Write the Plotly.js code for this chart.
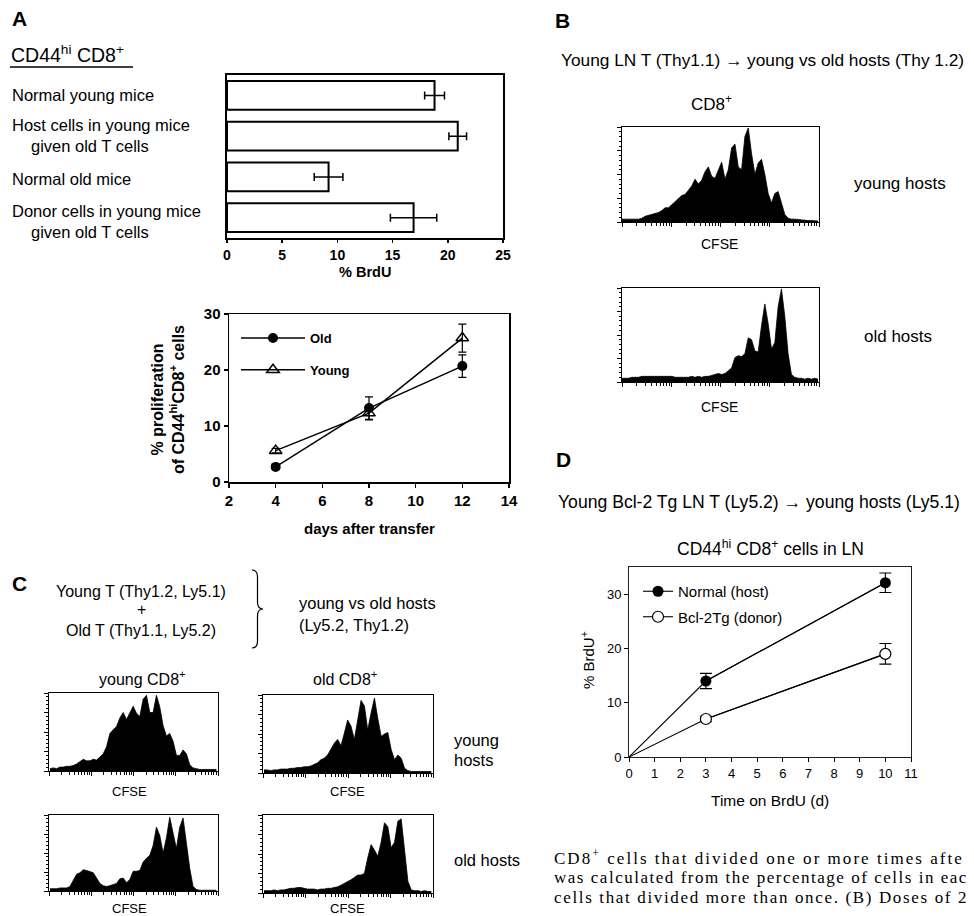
<!DOCTYPE html>
<html><head><meta charset="utf-8">
<script src="https://cdn.plot.ly/plotly-3.0.1.min.js"></script>
<style>html,body{margin:0;padding:0;background:#fff;overflow:hidden}#chart{width:974px;height:916px}</style>
</head><body><div id="chart"></div>
<script>
// ---------- DATA ----------
// Panel A, bar chart: % BrdU of CD44hi CD8+ cells
const brduCategories = [
  'Normal young mice',
  'Host cells in young mice<br>given old T cells',
  'Normal old mice',
  'Donor cells in young mice<br>given old T cells'
];
const brduMeans  = [18.8, 20.9, 9.2, 16.9];
const brduErrors = [0.9, 0.8, 1.3, 2.1];
const brduTicks  = [0, 5, 10, 15, 20, 25];

// Panel A, line chart: % proliferation vs days after transfer
const transferDays   = [4, 8, 12];
const oldProlif      = [2.7, 13.2, 20.7];
const oldProlifErr   = [0.4, 2.0, 2.0];
const youngProlif    = [5.6, 12.3, 25.7];
const youngProlifErr = [0.4, 1.2, 2.5];

// Panel B, CFSE histograms (relative counts per channel bin)
const cfseB_youngHosts = [0.03,0.03,0.03,0.03,0.03,0.03,0.04,0.06,0.07,0.08,0.09,0.10,0.12,0.15,0.15,0.18,0.21,0.25,0.28,0.29,0.33,0.38,0.45,0.40,0.44,0.53,0.58,0.48,0.46,0.55,0.63,0.45,0.55,0.78,0.82,0.58,0.55,0.90,0.99,0.72,0.50,0.62,0.66,0.50,0.30,0.20,0.30,0.32,0.20,0.08,0.04,0.03,0.03,0.025,0.02,0.02,0.015,0.015,0.01,0.01];
const cfseB_oldHosts   = [0.04,0.04,0.04,0.05,0.05,0.05,0.06,0.06,0.06,0.06,0.06,0.06,0.06,0.06,0.06,0.06,0.05,0.05,0.05,0.05,0.05,0.06,0.05,0.06,0.05,0.06,0.06,0.07,0.08,0.09,0.08,0.09,0.12,0.15,0.26,0.28,0.27,0.30,0.47,0.45,0.33,0.32,0.60,0.83,0.62,0.35,0.42,0.80,0.99,0.70,0.30,0.08,0.05,0.04,0.04,0.03,0.04,0.03,0.04,0.03];

// Panel C, CFSE histograms
const cfseC_youngCD8_youngHosts = [0.03,0.04,0.03,0.05,0.05,0.06,0.06,0.07,0.09,0.12,0.15,0.13,0.13,0.15,0.14,0.18,0.22,0.31,0.48,0.53,0.57,0.68,0.75,0.66,0.74,0.83,0.74,0.70,0.92,0.97,0.75,0.75,0.97,0.82,0.58,0.45,0.48,0.38,0.20,0.20,0.27,0.22,0.08,0.04,0.03,0.02,0.02,0.02,0.02,0.02,0.02];
const cfseC_oldCD8_youngHosts   = [0.04,0.04,0.03,0.04,0.04,0.05,0.05,0.05,0.06,0.06,0.07,0.07,0.08,0.08,0.09,0.11,0.13,0.17,0.19,0.23,0.30,0.38,0.43,0.35,0.51,0.68,0.60,0.43,0.68,0.93,0.86,0.55,0.77,0.96,0.70,0.47,0.50,0.52,0.30,0.17,0.23,0.19,0.06,0.03,0.02,0.02,0.02,0.02,0.02,0.02,0.02];
const cfseC_youngCD8_oldHosts   = [0.03,0.03,0.03,0.04,0.04,0.04,0.06,0.15,0.22,0.24,0.28,0.27,0.25,0.24,0.17,0.10,0.07,0.06,0.07,0.08,0.10,0.16,0.17,0.11,0.15,0.26,0.26,0.27,0.38,0.43,0.47,0.60,0.84,0.73,0.50,0.70,0.97,0.76,0.56,0.84,0.96,0.63,0.30,0.06,0.02,0.01,0.01,0.01,0.01,0.01,0.01];
const cfseC_oldCD8_oldHosts     = [0.03,0.03,0.03,0.04,0.03,0.04,0.04,0.05,0.06,0.06,0.07,0.07,0.06,0.05,0.05,0.05,0.04,0.05,0.05,0.06,0.06,0.07,0.08,0.10,0.12,0.14,0.17,0.20,0.23,0.23,0.25,0.45,0.62,0.55,0.47,0.65,0.90,0.85,0.58,0.65,0.92,0.95,0.55,0.15,0.04,0.03,0.03,0.02,0.03,0.02,0.02];

// Panel D: % BrdU+ vs time on BrdU
const brduDays       = [0, 3, 10];
const normalHostBrdU = [0, 14.0, 32.1];
const normalHostErr  = [0, 1.4, 1.8];
const bcl2DonorBrdU  = [0, 7.0, 19.0];
const bcl2DonorErr   = [0, 0.5, 1.9];
const dXTicks = [0,1,2,3,4,5,6,7,8,9,10,11];
const dYTicks = [0,10,20,30];

// ---------- LAYOUT HELPERS ----------
const W = 974, H = 916;
const SANS = 'Liberation Sans, Arial, Helvetica, sans-serif';
const SERIF = 'Liberation Serif';
const px = v => v / W, py = v => 1 - v / H;
const domX = (a, b) => [px(a), px(b)];
const domY = (top, bot) => [py(bot), py(top)];

function ann(text, x, y, size, o) {
  o = o || {};
  return {
    text: text, x: px(x), y: py(y), xref: 'paper', yref: 'paper', showarrow: false,
    xanchor: o.xa || 'left', yanchor: 'middle', align: o.align || (o.xa === 'center' ? 'center' : 'left'),
    textangle: o.angle || 0,
    font: {family: o.family || SANS, size: size, color: '#000', weight: o.bold ? 'bold' : 'normal'}
  };
}

function logTicks(x0, x1) {
  const maj = [], min = [], span = (x1 - x0) / 4;
  for (let d = 0; d < 4; d++) {
    maj.push(x0 + d * span);
    for (let k = 2; k <= 9; k++) min.push(x0 + (d + Math.log10(k)) * span);
  }
  maj.push(x1);
  return {maj, min};
}

function histAxes(xd, yd, xr, n) {
  const t = logTicks(xr[0], xr[1]);
  return [{
    domain: xd, anchor: 'y' + n, range: xr, showline: true, mirror: true, linecolor: '#000', linewidth: 1,
    ticks: 'outside', ticklen: 4, tickwidth: 1, tickcolor: '#000', tickmode: 'array', tickvals: t.maj,
    minor: {tickmode: 'array', tickvals: t.min, ticks: 'outside', ticklen: 2.5, tickwidth: 1, tickcolor: '#000'},
    showticklabels: false, showgrid: false, zeroline: false, fixedrange: true
  }, {
    domain: yd, anchor: 'x' + n, range: [0, 1], showline: true, mirror: true, linecolor: '#000', linewidth: 1,
    ticks: 'outside', ticklen: 4, tickwidth: 1, tickcolor: '#000', dtick: 0.25,
    minor: {dtick: 0.05, ticks: 'outside', ticklen: 2, tickwidth: 1, tickcolor: '#000'},
    showticklabels: false, showgrid: false, zeroline: false, fixedrange: true
  }];
}

function histTrace(vals, n) {
  return {
    type: 'scatter', mode: 'lines', x: vals.map((_, i) => i), y: vals, xaxis: 'x' + n, yaxis: 'y' + n,
    fill: 'tozeroy', fillcolor: '#000', line: {color: '#000', width: 0.8}, showlegend: false, hoverinfo: 'skip'
  };
}

// ---------- TRACES ----------
const traces = [];
traces.push({
  type: 'bar', orientation: 'h', x: brduMeans, y: brduCategories, xaxis: 'x', yaxis: 'y',
  marker: {color: '#fff', line: {color: '#000', width: 2}},
  error_x: {type: 'data', array: brduErrors, visible: true, color: '#000', thickness: 1.5, width: 4},
  showlegend: false, hoverinfo: 'skip'
});
traces.push({
  type: 'scatter', mode: 'lines+markers', name: 'Old', x: transferDays, y: oldProlif, xaxis: 'x2', yaxis: 'y2',
  line: {color: '#000', width: 1.5}, marker: {symbol: 'circle', size: 10, color: '#000'},
  error_y: {type: 'data', array: oldProlifErr, visible: true, color: '#000', thickness: 1.2, width: 4},
  legend: 'legend', legendgroup: 'old'
});
traces.push({
  type: 'scatter', mode: 'lines+markers', name: 'Young', x: transferDays, y: youngProlif, xaxis: 'x2', yaxis: 'y2',
  line: {color: '#000', width: 1.5}, marker: {symbol: 'triangle-up-open', size: 11, color: '#000', line: {width: 1.5}},
  error_y: {type: 'data', array: youngProlifErr, visible: true, color: '#000', thickness: 1.2, width: 4},
  legend: 'legend', legendgroup: 'young'
});
traces.push(histTrace(cfseB_youngHosts, 3));
traces.push(histTrace(cfseB_oldHosts, 4));
traces.push(histTrace(cfseC_youngCD8_youngHosts, 5));
traces.push(histTrace(cfseC_oldCD8_youngHosts, 6));
traces.push(histTrace(cfseC_youngCD8_oldHosts, 7));
traces.push(histTrace(cfseC_oldCD8_oldHosts, 8));
// Panel D
traces.push({type: 'scatter', mode: 'lines', x: brduDays, y: normalHostBrdU, xaxis: 'x9', yaxis: 'y9',
  line: {color: '#000', width: 1.1}, showlegend: false, hoverinfo: 'skip', cliponaxis: false});
traces.push({type: 'scatter', mode: 'lines', x: brduDays, y: bcl2DonorBrdU, xaxis: 'x9', yaxis: 'y9',
  line: {color: '#000', width: 1.1}, showlegend: false, hoverinfo: 'skip', cliponaxis: false});
traces.push({type: 'scatter', mode: 'lines+markers', name: 'Normal (host)', x: brduDays.slice(1), y: normalHostBrdU.slice(1),
  xaxis: 'x9', yaxis: 'y9', line: {color: '#000', width: 1.1}, marker: {symbol: 'circle', size: 11, color: '#000'},
  error_y: {type: 'data', array: normalHostErr.slice(1), visible: true, color: '#000', thickness: 1.1, width: 6},
  legend: 'legend2', legendgroup: 'normal'});
traces.push({type: 'scatter', mode: 'lines+markers', name: 'Bcl-2Tg (donor)', x: brduDays.slice(1), y: bcl2DonorBrdU.slice(1),
  xaxis: 'x9', yaxis: 'y9', line: {color: '#000', width: 1.1}, marker: {symbol: 'circle', size: 11, color: '#fff', line: {color: '#000', width: 1.2}},
  error_y: {type: 'data', array: bcl2DonorErr.slice(1), visible: true, color: '#000', thickness: 1.1, width: 6},
  legend: 'legend2', legendgroup: 'bcl'});

// ---------- AXES ----------
const layout = {
  width: W, height: H, margin: {l: 0, r: 0, t: 0, b: 0}, paper_bgcolor: '#fff', plot_bgcolor: 'rgba(0,0,0,0)',
  font: {family: SANS, color: '#000'}, showlegend: true, bargap: 0.29, hovermode: false,
  xaxis: {domain: domX(227, 503), anchor: 'y', range: [0, 25], tickmode: 'array', tickvals: brduTicks,
    showline: true, mirror: true, linecolor: '#000', linewidth: 2, ticks: 'outside', ticklen: 3, tickwidth: 1.5, tickcolor: '#000',
    tickfont: {size: 14, weight: 'bold'}, showgrid: false, zeroline: false, fixedrange: true},
  yaxis: {domain: domY(75, 238), anchor: 'x', type: 'category', range: [3.5, -0.5], showline: true, mirror: true,
    linecolor: '#000', linewidth: 2, ticks: '', showticklabels: false, showgrid: false, zeroline: false, fixedrange: true},
  xaxis2: {domain: domX(229, 509), anchor: 'y2', range: [2, 14], dtick: 2, showline: true, mirror: true, linecolor: '#000', linewidth: 1.5,
    ticks: 'outside', ticklen: 4, tickwidth: 1.2, tickcolor: '#000', tickfont: {size: 15, weight: 'bold'},
    showgrid: false, zeroline: false, fixedrange: true},
  yaxis2: {domain: domY(314, 482), anchor: 'x2', range: [0, 30], dtick: 10, showline: true, mirror: true, linecolor: '#000', linewidth: 1.5,
    ticks: 'outside', ticklen: 4, tickwidth: 1.2, tickcolor: '#000', tickfont: {size: 15, weight: 'bold'},
    showgrid: false, zeroline: false, fixedrange: true},
  xaxis9: {domain: domX(629, 911), anchor: 'y9', range: [0, 11], tickmode: 'array', tickvals: dXTicks,
    showline: true, mirror: true, linecolor: '#222', linewidth: 1, ticks: 'outside', ticklen: 4, tickwidth: 1, tickcolor: '#000',
    tickfont: {size: 13}, showgrid: false, zeroline: false, fixedrange: true},
  yaxis9: {domain: domY(567, 757), anchor: 'x9', range: [0, 35], tickmode: 'array', tickvals: dYTicks,
    showline: true, mirror: true, linecolor: '#222', linewidth: 1, ticks: 'outside', ticklen: 4, tickwidth: 1, tickcolor: '#000',
    tickfont: {size: 13}, showgrid: false, zeroline: false, fixedrange: true},
  legend: {x: px(236), y: py(323), xanchor: 'left', yanchor: 'top', bgcolor: 'rgba(0,0,0,0)', borderwidth: 0,
    font: {family: SANS, size: 13, weight: 'bold'}, traceorder: 'grouped', tracegroupgap: 12, itemwidth: 64},
  legend2: {x: px(638), y: py(575), xanchor: 'left', yanchor: 'top', bgcolor: 'rgba(0,0,0,0)', borderwidth: 0,
    font: {family: SANS, size: 15}, traceorder: 'grouped', tracegroupgap: 3, itemwidth: 30}
};
const hb = [0, 59.3], hc = [-0.3, 50.5];
[[domX(622, 819), domY(127, 222), hb], [domX(622, 819), domY(288, 382), hb],
 [domX(49, 218), domY(693, 771), hc], [domX(263, 433), domY(695, 773), hc],
 [domX(49, 218), domY(815, 891), hc], [domX(263, 433), domY(815, 893), hc]].forEach((d, i) => {
  const n = i + 3;
  const ax = histAxes(d[0], d[1], d[2], n);
  layout['xaxis' + n] = ax[0]; layout['yaxis' + n] = ax[1];
});

// ---------- TEXT ----------
const A = [];
// Panel A
A.push(ann('A', 10, 19, 21, {bold: true}));
A.push(ann('CD44<sup>hi</sup> CD8<sup>+</sup>', 9, 54, 19.5));
const labelY = [[95], [125, 146], [179], [211, 232]];
brduCategories.forEach((c, i) => {
  c.split('<br>').forEach((line, j) => A.push(ann(line, j === 0 ? 10 : 29, labelY[i][j], 16.5)));
});
A.push(ann('% BrdU', 365, 272, 14.5, {xa: 'center', bold: true}));
A.push(ann('% proliferation<br>of CD44<sup>hi</sup>CD8<sup>+</sup> cells', 168, 400, 16, {xa: 'center', bold: true, angle: -90}));
A.push(ann('days after transfer', 369, 528, 15, {xa: 'center', bold: true}));
// Panel B
A.push(ann('B', 553, 20, 21, {bold: true}));
A.push(ann('Young LN T (Thy1.1) → young vs old hosts (Thy 1.2)', 559, 60, 17.3));
A.push(ann('CD8<sup>+</sup>', 711, 103, 17, {xa: 'center'}));
A.push(ann('CFSE', 719, 244, 14, {xa: 'center'}));
A.push(ann('CFSE', 719, 407, 14, {xa: 'center'}));
A.push(ann('young hosts', 852, 183, 17));
A.push(ann('old hosts', 862, 337, 17));
// Panel C
A.push(ann('C', 10, 583, 21, {bold: true}));
A.push(ann('Young T (Thy1.2, Ly5.1)', 141, 591, 16, {xa: 'center'}));
A.push(ann('+', 141, 609, 16, {xa: 'center'}));
A.push(ann('Old T (Thy1.1, Ly5.2)', 141, 630, 16, {xa: 'center'}));
A.push(ann('young vs old hosts', 297, 603, 16.5));
A.push(ann('(Ly5.2, Thy1.2)', 297, 625, 16.5));
A.push(ann('young CD8<sup>+</sup>', 142, 678, 16, {xa: 'center'}));
A.push(ann('old CD8<sup>+</sup>', 345, 678, 16, {xa: 'center'}));
A.push(ann('CFSE', 129, 791, 13, {xa: 'center'}));
A.push(ann('CFSE', 347, 791, 13, {xa: 'center'}));
A.push(ann('CFSE', 129, 908, 13, {xa: 'center'}));
A.push(ann('CFSE', 347, 908, 13, {xa: 'center'}));
A.push(ann('young', 452, 740, 16.5));
A.push(ann('hosts', 452, 760, 16.5));
A.push(ann('old hosts', 452, 860, 16.5));
// Panel D
A.push(ann('D', 554, 460, 21, {bold: true}));
A.push(ann('Young Bcl-2 Tg LN T (Ly5.2) → young hosts (Ly5.1)', 556, 502, 17.6));
A.push(ann('CD44<sup>hi</sup> CD8<sup>+</sup> cells in LN', 770, 548, 17.5, {xa: 'center'}));
A.push(ann('% BrdU<sup>+</sup>', 587, 660, 15, {xa: 'center', angle: -90}));
A.push(ann('Time on BrdU (d)', 770, 800, 15.5, {xa: 'center'}));
// Caption text (the part visible in the figure)
A.push(ann('CD8<sup>+</sup> cells that divided one or more times afte', 552, 857, 17, {family: SERIF}));
A.push(ann('was calculated from the percentage of cells in eac', 552, 877, 17, {family: SERIF}));
A.push(ann('cells that divided more than once. (B) Doses of 2', 552, 897, 17, {family: SERIF}));
layout.annotations = A;

// ---------- SHAPES ----------
const P = (x, y) => px(x) + ',' + py(y);
layout.shapes = [
  {type: 'line', xref: 'paper', yref: 'paper', x0: px(10), x1: px(133), y0: py(67), y1: py(67), line: {color: '#000', width: 1.3}},
  {type: 'path', xref: 'paper', yref: 'paper', line: {color: '#000', width: 1.2},
   path: 'M' + P(252, 570) + ' Q' + P(257.5, 570) + ' ' + P(257.5, 577) + ' L' + P(257.5, 602) +
         ' Q' + P(257.5, 609) + ' ' + P(263, 609) + ' Q' + P(257.5, 609) + ' ' + P(257.5, 616) +
         ' L' + P(257.5, 641) + ' Q' + P(257.5, 648) + ' ' + P(252, 648)}
];

Plotly.newPlot('chart', traces, layout, {staticPlot: true, displayModeBar: false}).then(() => {
  // spread caption lines like the original justified paragraph, staying inside the page
  document.querySelectorAll('.annotation-text').forEach(t => {
    if ((t.style.fontFamily || '').indexOf('Liberation Serif') >= 0) {
      const len = t.getComputedTextLength();
      const n = t.textContent.length;
      const ls = (414 - len) / Math.max(1, n);
      if (ls > 0) t.style.letterSpacing = ls.toFixed(2) + 'px';
    }
  });
});
</script></body></html>
